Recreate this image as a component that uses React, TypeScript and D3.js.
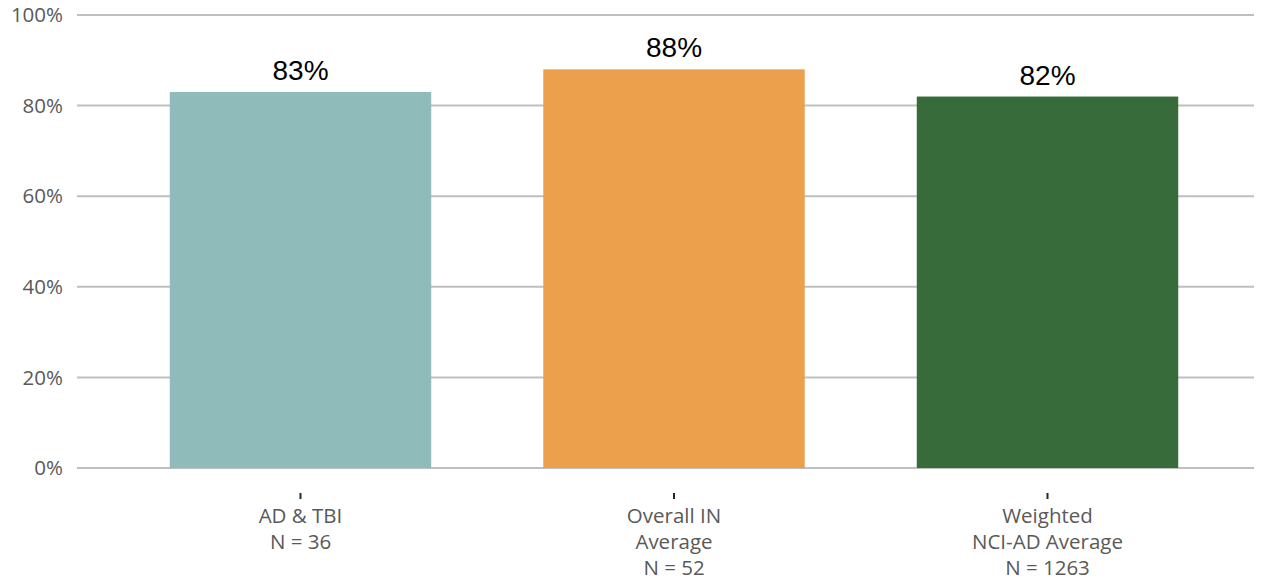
import * as d3 from 'd3'

const categories = ['AD & TBI', 'Overall IN Average', 'Weighted NCI-AD Average']
const categoryLines = [
  ['AD & TBI', 'N = 36'],
  ['Overall IN', 'Average', 'N = 52'],
  ['Weighted', 'NCI-AD Average', 'N = 1263'],
]
const values = [83, 88, 82]
const colors = ['#8fbcbb', '#eca04c', '#386b3a']
const yTicks = [0, 20, 40, 60, 80, 100]

export default function App() {
  const width = 1272
  const height = 584
  const gridLeft = 77
  const gridRight = 1254

  const x = d3
    .scaleBand<string>()
    .domain(categories)
    .range([113.75, 1234.25])
    .paddingInner(0.3)
    .paddingOuter(0.15)

  const y = d3.scaleLinear().domain([0, 100]).range([468, 15])

  const labelFont = '"Open Sans", "DejaVu Sans", sans-serif'

  return (
    <svg
      width={width}
      height={height}
      style={{ position: 'absolute', left: 0, top: 0 }}
    >
      {/* gridlines + y labels */}
      {yTicks.map((t) => (
        <g key={t}>
          <line
            x1={gridLeft}
            x2={gridRight}
            y1={y(t)}
            y2={y(t)}
            stroke="#bfbfbf"
            strokeWidth={2}
          />
          <text
            x={63}
            y={y(t)}
            dy="0.35em"
            textAnchor="end"
            fontFamily={labelFont}
            fontSize={20.5}
            fill="#595959"
          >
            {t}%
          </text>
        </g>
      ))}

      {/* bars */}
      {categories.map((c, i) => (
        <g key={c}>
          <rect
            x={x(c)}
            y={y(values[i])}
            width={x.bandwidth()}
            height={y(0) - y(values[i])}
            fill={colors[i]}
          />
          <text
            x={(x(c) as number) + x.bandwidth() / 2}
            y={y(values[i]) - 12}
            textAnchor="middle"
            fontFamily='"Liberation Sans", Arial, sans-serif'
            fontSize={28}
            fill="#000"
          >
            {values[i]}%
          </text>
        </g>
      ))}

      {/* x ticks and labels */}
      {categories.map((c, i) => {
        const cx = (x(c) as number) + x.bandwidth() / 2
        return (
          <g key={c + '-lbl'}>
            <line x1={cx} x2={cx} y1={493} y2={499} stroke="#262626" strokeWidth={2} />
            <text
              textAnchor="middle"
              fontFamily={labelFont}
              fontSize={20.5}
              fill="#595959"
            >
              {categoryLines[i].map((ln, j) => (
                <tspan key={j} x={cx} y={523 + j * 26}>
                  {ln}
                </tspan>
              ))}
            </text>
          </g>
        )
      })}
    </svg>
  )
}
